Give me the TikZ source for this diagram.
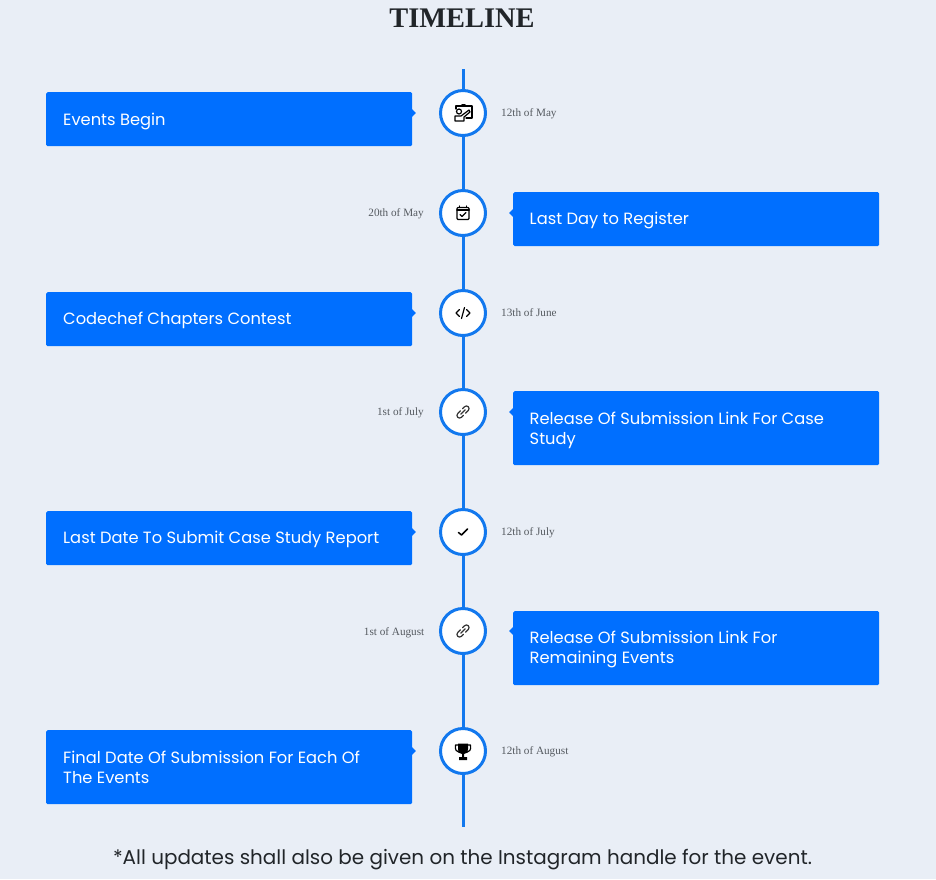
\documentclass[tikz,border=0pt]{standalone}
\usepackage{fontspec}
\setmainfont{Liberation Serif}
\newfontfamily\boxfont{Poppins}
\usepackage{xcolor}
\usetikzlibrary{positioning,shapes.geometric}
\definecolor{pagebg}{HTML}{E9EEF6}
\definecolor{tlblue}{HTML}{006FFF}
\definecolor{ringblue}{HTML}{1278EE}
\definecolor{inkdark}{HTML}{212529}
\definecolor{dategray}{HTML}{555A60}
\tikzset{
    eventbox/.style={fill=tlblue, rounded corners=1.5pt, anchor=north west, inner sep=0pt,
        minimum width=366pt, text=white, font=\boxfont\fontsize{16.2}{20}\selectfont},
    eventtext/.style={anchor=west, inner sep=0pt, text=white, align=left,
        font=\boxfont\fontsize{16.3}{20}\selectfont},
    pointer/.style={diamond, fill=tlblue, inner sep=0pt, minimum size=10pt},
    ringnode/.style={circle, draw=ringblue, line width=3pt, fill=white, inner sep=0pt, minimum size=45pt},
    datetext/.style={inner sep=0pt, text=dategray, font=\fontsize{11.2}{13}\selectfont},
    timeline/.style={draw=ringblue, line width=3pt},
    iconline/.style={draw=black, line width=1.2pt, line cap=round, line join=round}
}
\begin{document}
\begin{tikzpicture}[x=1pt, y=-1pt]
    \useasboundingbox[fill=pagebg] (0,0) rectangle (936,879);

    % title and footer
    \node[inner sep=0pt, text=inkdark, font=\bfseries\fontsize{28.4}{32}\selectfont] (title) at (462,18.5) {TIMELINE};
    \node[inner sep=0pt, text=inkdark, font=\boxfont\fontsize{19.93}{24}\selectfont] (footer) at (462.5,860)
        {*All updates shall also be given on the Instagram handle for the event.};

    % rings
    \coordinate (top) at (463,69);
    \coordinate (bottom) at (463,827);
    \node[ringnode] (may) at (463,113) {};
    \node[ringnode] (reg) at (463,213) {};
    \node[ringnode] (june) at (463,313) {};
    \node[ringnode] (july) at (463,412) {};
    \node[ringnode] (report) at (463,532) {};
    \node[ringnode] (august) at (463,631) {};
    \node[ringnode] (final) at (463,751) {};

    % line
    \draw[timeline] (top) -- (may);
    \draw[timeline] (may) -- (reg);
    \draw[timeline] (reg) -- (june);
    \draw[timeline] (june) -- (july);
    \draw[timeline] (july) -- (report);
    \draw[timeline] (report) -- (august);
    \draw[timeline] (august) -- (final);
    \draw[timeline] (final) -- (bottom);

    % boxes
    \node[pointer] (pmay) at (411,113) {};
    \node[pointer] (preg) at (514,213) {};
    \node[pointer] (pjune) at (411,313) {};
    \node[pointer] (pjuly) at (514,412) {};
    \node[pointer] (preport) at (411,532) {};
    \node[pointer] (paugust) at (514,631) {};
    \node[pointer] (pfinal) at (411,751) {};
    \node[eventbox, minimum height=54pt] (bmay) at (46,92) {};
    \node[eventbox, minimum height=54pt] (breg) at (513,192) {};
    \node[eventbox, minimum height=54pt] (bjune) at (46,292) {};
    \node[eventbox, minimum height=74pt] (bjuly) at (513,391) {};
    \node[eventbox, minimum height=54pt] (breport) at (46,511) {};
    \node[eventbox, minimum height=74pt] (baugust) at (513,611) {};
    \node[eventbox, minimum height=74pt] (bfinal) at (46,730) {};

    \node[eventtext] (tmay) at (63,121) {Events Begin};
    \node[eventtext] (treg) at (529.5,220.5) {Last Day to Register};
    \node[eventtext] (tjune) at (63,320.5) {Codechef Chapters Contest};
    \node[eventtext] (tjuly) at (529.5,430) {Release Of Submission Link For Case\\Study};
    \node[eventtext] (treport) at (63,539.5) {Last Date To Submit Case Study Report};
    \node[eventtext] (taugust) at (529.5,649.5) {Release Of Submission Link For\\Remaining Events};
    \node[eventtext] (tfinal) at (63,767) {Final Date Of Submission For Each Of\\The Events};

    % dates
    \node[datetext, anchor=west] (dmay) at (501,113.5) {12th of May};
    \node[datetext, anchor=east] (dreg) at (424,213.5) {20th of May};
    \node[datetext, anchor=west] (djune) at (501,313) {13th of June};
    \node[datetext, anchor=east] (djuly) at (424,412.5) {1st of July};
    \node[datetext, anchor=west] (dreport) at (501,532.5) {12th of July};
    \node[datetext, anchor=east] (daugust) at (424.5,632.5) {1st of August};
    \node[datetext, anchor=west] (dfinal) at (501,751.5) {12th of August};

    % icons
    \begin{scope}[shift={(may)}]
        \draw[iconline] (-7,-4) -- (-7,-7) -- (9,-7) -- (9,5) -- (3,5);
        \draw[iconline] (-1,-8.5) -- (2,-8.5);
        \draw[iconline] (-4,-1.5) circle (2.5);
        \draw[iconline] (-8,8) -- (-8,3) -- (-2,3) -- (6,-3) -- (7,-1) -- (1,4) -- (1,8) -- cycle;
    \end{scope}
    \begin{scope}[shift={(reg)}]
        \draw[iconline, rounded corners=1pt] (-6,-5.5) rectangle (6,6.5);
        \draw[iconline, line width=2pt] (-6,-3.5) -- (6,-3.5);
        \draw[iconline] (-3.5,-7) -- (-3.5,-5.5) (3.5,-7) -- (3.5,-5.5);
        \draw[iconline] (-3,1.5) -- (-1,3.5) -- (3,-0.5);
    \end{scope}
    \begin{scope}[shift={(june)}]
        \draw[iconline] (-3.5,-3.5) -- (-7,0) -- (-3.5,3.5);
        \draw[iconline] (3.5,-3.5) -- (7,0) -- (3.5,3.5);
        \draw[iconline] (1.5,-5.5) -- (-1.5,5.5);
    \end{scope}
    \begin{scope}[shift={(july)}, rotate=45]
        \draw[iconline, draw=black!80, rounded corners=2.6pt] (-1,-2.6) -- (-7.5,-2.6) -- (-7.5,2.6) -- (-2,2.6);
        \draw[iconline, draw=black!80, rounded corners=2.6pt] (1,2.6) -- (7.5,2.6) -- (7.5,-2.6) -- (2,-2.6);
        \draw[iconline, draw=black!80] (-3,0) -- (3,0);
    \end{scope}
    \begin{scope}[shift={(report)}]
        \draw[iconline, line width=1.5pt] (-4.5,0.5) -- (-1.5,3) -- (4.5,-3);
    \end{scope}
    \begin{scope}[shift={(august)}, rotate=45]
        \draw[iconline, draw=black!80, rounded corners=2.6pt] (-1,-2.6) -- (-7.5,-2.6) -- (-7.5,2.6) -- (-2,2.6);
        \draw[iconline, draw=black!80, rounded corners=2.6pt] (1,2.6) -- (7.5,2.6) -- (7.5,-2.6) -- (2,-2.6);
        \draw[iconline, draw=black!80] (-3,0) -- (3,0);
    \end{scope}
    \begin{scope}[shift={(final)}]
        \fill[black] (-5,-7.5) -- (5,-7.5) -- (5,-2) .. controls (5,2) and (2,3) .. (1,3) -- (1,6) -- (4,6) -- (4,9) -- (-4,9) -- (-4,6) -- (-1,6) -- (-1,3) .. controls (-2,3) and (-5,2) .. (-5,-2) -- cycle;
        \draw[iconline] (-5,-6) -- (-7.5,-6) .. controls (-8.5,-1) and (-6,1) .. (-3.5,1.5);
        \draw[iconline] (5,-6) -- (7.5,-6) .. controls (8.5,-1) and (6,1) .. (3.5,1.5);
    \end{scope}
\end{tikzpicture}
\end{document}
